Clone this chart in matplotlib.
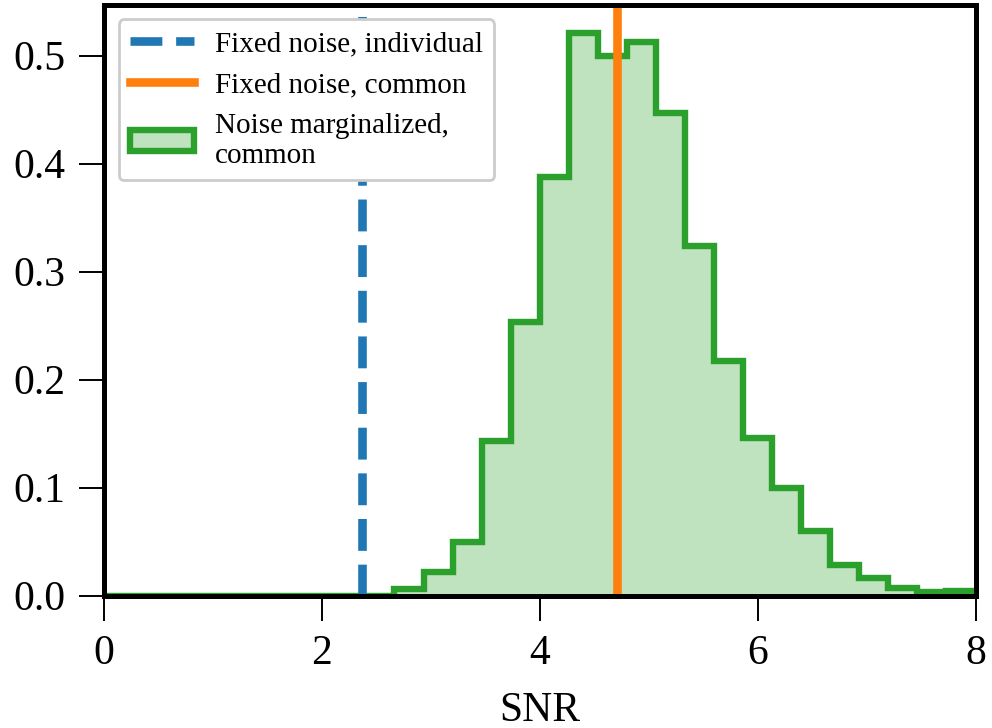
import numpy as np
import matplotlib.pyplot as plt
from matplotlib.colors import to_rgba

plt.rcParams['font.family'] = 'serif'
plt.rcParams['font.serif'] = ['Liberation Serif', 'DejaVu Serif']

# histogram of the marginalized SNR (density), 30 bins between 0 and 8
bin_edges = np.linspace(0, 8, 31)
density = [0, 0, 0, 0, 0, 0, 0, 0, 0, 0,
           0.0062, 0.022, 0.0495, 0.1429, 0.2532, 0.3878, 0.5213, 0.4997,
           0.513, 0.4471, 0.3237, 0.2174, 0.146, 0.0996, 0.0603, 0.0282,
           0.0161, 0.0072, 0.0034, 0.004]

snr_individual = 2.366
snr_common = 4.707

fig = plt.figure(figsize=(9.92, 7.28), dpi=100)
ax = fig.add_subplot(111)
plt.subplots_adjust(left=0.1048, right=0.9834, top=0.9938, bottom=0.1817)

ax.axvline(snr_individual, color='C0', ls='--', lw=6.2, label='Fixed noise, individual')
ax.axvline(snr_common, color='C1', lw=6.2, label='Fixed noise, common')
ax.stairs(density, bin_edges, fill=True, facecolor=to_rgba('C2', 0.3),
          edgecolor='C2', lw=4.6, label='Noise marginalized,\ncommon')

ax.set_xlim(0, 8)
ax.set_ylim(0, max(density) * 1.05)
ax.set_xticks([0, 2, 4, 6, 8])
ax.set_yticks([0.0, 0.1, 0.2, 0.3, 0.4, 0.5])
ax.set_xlabel('SNR', fontsize=30, labelpad=13)
ax.tick_params(labelsize=30, length=18, width=1.4, pad=10)
for s in ax.spines.values():
    s.set_linewidth(3.6)
    s.set_zorder(5)

ax.legend(loc='upper left', fontsize=21, handlelength=2.2, handletextpad=0.7,
          borderaxespad=0.5, framealpha=1, edgecolor='0.8')
ax.get_legend().get_frame().set_linewidth(2)

plt.savefig('out.png')
